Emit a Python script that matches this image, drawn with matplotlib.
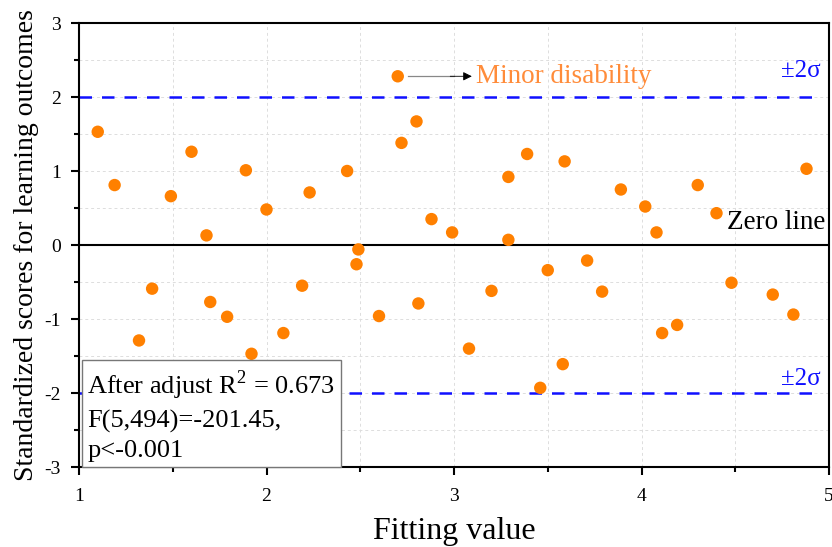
import matplotlib.pyplot as plt
from matplotlib.ticker import MultipleLocator

plt.rcParams["font.family"] = ["Liberation Serif", "DejaVu Serif"]
plt.rcParams["mathtext.fontset"] = "custom"
plt.rcParams["mathtext.rm"] = "Liberation Serif"
plt.rcParams["axes.unicode_minus"] = False

# residual points
fit_x = [1.10, 1.19, 1.49, 1.60, 1.68, 1.89, 2.00, 2.23, 2.43, 2.49, 2.48,
         2.70, 2.72, 2.80, 2.88, 2.99, 3.29, 3.39, 3.29, 3.59, 3.89, 4.02,
         4.08, 4.30, 4.40, 4.88,
         1.39, 1.32, 1.70, 1.79, 1.92, 2.09, 2.19, 2.60, 2.81, 3.08, 3.20,
         3.50, 3.71, 3.79, 3.46, 3.58, 4.11, 4.19, 4.48, 4.70, 4.81]
score_y = [1.53, 0.81, 0.66, 1.26, 0.13, 1.01, 0.48, 0.71, 1.00, -0.06, -0.26,
           2.28, 1.38, 1.67, 0.35, 0.17, 0.92, 1.23, 0.07, 1.13, 0.75, 0.52,
           0.17, 0.81, 0.43, 1.03,
           -0.59, -1.29, -0.77, -0.97, -1.47, -1.19, -0.55, -0.96, -0.79, -1.40, -0.62,
           -0.34, -0.21, -0.63, -1.93, -1.61, -1.19, -1.08, -0.51, -0.67, -0.94]

sigma_band = [2, -2]
stats_text = "After adjust R$^{2}$ = 0.673\nF(5,494)=-201.45,\np<-0.001"

fig = plt.figure(figsize=(8.32, 5.47), dpi=100)
ax = fig.add_axes([79 / 832, 1 - 467 / 547, 750 / 832, 444 / 547])

ax.set_xlim(1, 5)
ax.set_ylim(-3, 3)
ax.xaxis.set_major_locator(MultipleLocator(1))
ax.xaxis.set_minor_locator(MultipleLocator(0.5))
ax.yaxis.set_major_locator(MultipleLocator(1))
ax.yaxis.set_minor_locator(MultipleLocator(0.5))
ax.grid(True, which="both", ls=(0, (3, 3)), lw=0.7, color="#dddddd", zorder=0)
ax.tick_params(which="major", direction="out", length=6, width=1.5, labelsize=14)
ax.tick_params(which="minor", direction="out", length=3.5, width=1.5)
ax.tick_params(axis="x", which="major", pad=9)
ax.tick_params(axis="y", which="major", pad=7)
for s in ax.spines.values():
    s.set_linewidth(1.5)

ax.axhline(0, color="black", lw=1.5, zorder=2)
for yv in sigma_band:
    ax.plot([1, 4.93], [yv, yv], color="#1010ff", ls=(0, (5, 4)), lw=1.8, zorder=2)

ax.scatter(fit_x, score_y, s=80, color="#ff8000", edgecolors="none", zorder=3)

ax.plot([2.755, 3.0], [2.28, 2.28], color="#888888", lw=0.9, zorder=2)
ax.annotate("", xy=(3.095, 2.28), xytext=(2.98, 2.28),
            arrowprops=dict(arrowstyle="-|>", color="black", lw=0.6,
                            mutation_scale=13, shrinkA=0, shrinkB=0))
ax.text(3.12, 2.28, "Minor disability", color="#ff8c3a", fontsize=19.5,
        va="center", ha="left")

ax.text(4.955, 2.27, "±2σ", color="#1010ff", fontsize=18, ha="right", va="baseline")
ax.text(4.955, -1.89, "±2σ", color="#1010ff", fontsize=18, ha="right", va="baseline")
ax.text(4.98, 0.31, "Zero line", color="black", fontsize=19.5, ha="right", va="center")

ax.text(1.045, -2.93, stats_text, fontsize=19, ha="left", va="bottom",
        linespacing=1.42, zorder=5,
        bbox=dict(boxstyle="square,pad=0.2", fc="white", ec="#777777", lw=1))

ax.set_xlabel("Fitting value", fontsize=23, labelpad=9)
ax.set_ylabel("Standardized scores for learning outcomes", fontsize=20, labelpad=4)

fig.savefig("out.png", dpi=100)
